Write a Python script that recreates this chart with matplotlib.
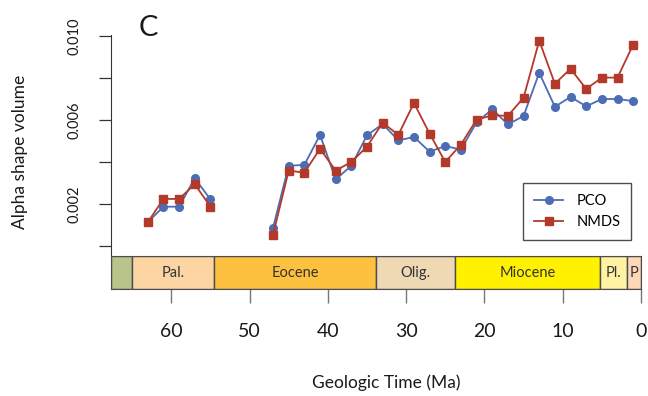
import numpy as np
import matplotlib
matplotlib.use("Agg")
import matplotlib.pyplot as plt

plt.rcParams['font.family'] = ['Lato', 'DejaVu Sans']

# --- data ---
ma = [63, 61, 59, 57, 55, 53, 51, 49, 47, 45, 43, 41, 39, 37, 35, 33, 31, 29,
      27, 25, 23, 21, 19, 17, 15, 13, 11, 9, 7, 5, 3, 1]
pco = [0.00113, 0.00187, 0.00187, 0.00322, 0.00222, None, None, None,
       0.00087, 0.00382, 0.00386, 0.00529, 0.00317, 0.00382, 0.00527, 0.00581,
       0.00503, 0.00519, 0.00449, 0.00476, 0.00459, 0.00589, 0.00651, 0.00579,
       0.00619, 0.00825, 0.00663, 0.00710, 0.00665, 0.00700, 0.00700, 0.00690]
nmds = [0.00113, 0.00224, 0.00224, 0.00294, 0.00187, None, None, None,
        0.00054, 0.00359, 0.00349, 0.00463, 0.00359, 0.00400, 0.00473, 0.00587,
        0.00529, 0.00681, 0.00535, 0.00400, 0.00483, 0.00602, 0.00622, 0.00620,
        0.00706, 0.00978, 0.00773, 0.00844, 0.00748, 0.00802, 0.00802, 0.00959]

# geologic time scale boxes
epochs = ['', 'Pal.', 'Eocene', 'Olig.', 'Miocene', 'Pl.', 'P']
epoch_start = [67.7, 65.0, 54.5, 33.8, 23.7, 5.3, 1.8]
epoch_end = [65.0, 54.5, 33.8, 23.7, 5.3, 1.8, 0.0]
epoch_colors = ['#b7c58b', '#fdd5a2', '#fec13f', '#efd9b4', '#fff100', '#fff2a3', '#fcd8b7']

xticks = [60, 50, 40, 30, 20, 10, 0]
yticks = [0, 0.002, 0.004, 0.006, 0.008, 0.010]
ytick_labels = ['', '0.002', '', '0.006', '', '0.010']

c_pco = '#4c6db3'
c_nmds = '#b3392a'
txt = '#1a1a1a'

fig = plt.figure(figsize=(6.48, 3.96), dpi=100)
W, H = 648.0, 396.0

# main plot
ax = fig.add_axes([111 / W, 1 - 256 / H, 530 / W, 221 / H])
x = np.array(ma, dtype=float)
y1 = np.array([np.nan if v is None else v for v in pco])
y2 = np.array([np.nan if v is None else v for v in nmds])
ax.plot(x, y1, '-o', color=c_pco, lw=1.3, ms=5.5, label='PCO')
ax.plot(x, y2, '-s', color=c_nmds, lw=1.3, ms=5.5, label='NMDS')
ax.set_xlim(67.7, 0)
ax.set_ylim(-0.00048, 0.01005)
for s in ['top', 'right', 'bottom']:
    ax.spines[s].set_visible(False)
ax.spines['left'].set_color('#333333')
ax.set_xticks([])
ax.set_yticks(yticks)
ax.set_yticklabels(ytick_labels, rotation=90, va='center', fontsize=10.5, color=txt)
ax.tick_params(axis='y', length=9, width=0.9, color='#333333', pad=12)
ax.set_ylabel('Alpha shape volume', fontsize=12.5, color=txt)
ax.yaxis.set_label_coords(-0.157, 0.47)

ax.legend(loc='upper left', bbox_to_anchor=(523 / W, 1 - 183 / H),
          bbox_transform=fig.transFigure, fontsize=10.5, frameon=True,
          fancybox=False, edgecolor='#222222', handlelength=2.0,
          handletextpad=0.9, borderpad=0.75, labelspacing=0.5,
          borderaxespad=0)
ax.get_legend().get_frame().set_linewidth(1.0)

fig.text(148.5 / W, 1 - 27.5 / H, 'C', fontsize=21, ha='center', va='center', color=txt)

# time scale bar
axb = fig.add_axes([111 / W, 1 - 289.3 / H, 530 / W, 33.3 / H])
axb.set_xlim(67.7, 0)
axb.set_ylim(0, 1)
for name, a, b, col in zip(epochs, epoch_start, epoch_end, epoch_colors):
    axb.axvspan(a, b, facecolor=col, edgecolor='#4d4d4d', lw=1.0)
    if name:
        axb.text((a + b) / 2, 0.5, name, ha='center', va='center', fontsize=10.5, color='#333333')
for s in axb.spines.values():
    s.set_color('#4d4d4d')
axb.set_yticks([])
axb.set_xticks(xticks)
axb.set_xticklabels([str(t) for t in xticks], fontsize=14, color=txt)
axb.tick_params(axis='x', length=10, width=1.0, color='#777777', pad=14)

fig.text(386 / W, 1 - 383 / H, 'Geologic Time (Ma)', fontsize=12.5, ha='center', va='center', color=txt)

fig.savefig('out.png', dpi=100)
